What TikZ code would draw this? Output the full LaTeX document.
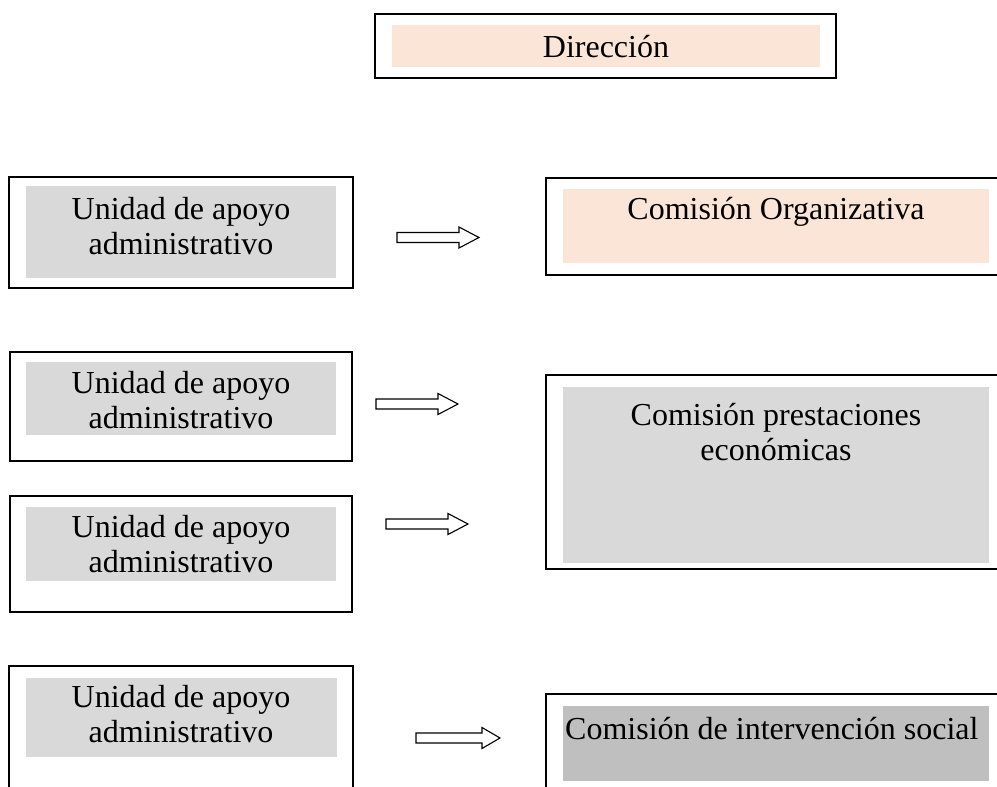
\documentclass[tikz,border=0pt]{standalone}
\usepackage{fontspec}
\setmainfont{Liberation Serif}
\usetikzlibrary{fit}
\definecolor{peach}{HTML}{FBE5D6}
\definecolor{lgray}{HTML}{D9D9D9}
\definecolor{dgray}{HTML}{BFBFBF}
\newcommand\BArrow[5]{% name, x, y, length, head length
  \coordinate (#1) at (#2,#3);
  \draw[barrowline] (#2,#3-5) -- (#2+#4-#5,#3-5) -- (#2+#4-#5,#3-10.5) -- (#2+#4,#3)
    -- (#2+#4-#5,#3+10.5) -- (#2+#4-#5,#3+5) -- (#2,#3+5) -- cycle;}
\begin{document}
\begin{tikzpicture}[x=1pt,y=-1pt,
  frame/.style={draw=black, line width=1.6pt, inner sep=0pt, fill=none},
  shade/.style={inner sep=0pt, draw=none},
  lbl/.style={font=\fontsize{32}{34.5}\selectfont, align=center, inner sep=0pt},
  barrowline/.style={draw=black, line width=1.1pt, fill=white, line join=miter}]
\useasboundingbox (0,0) rectangle (997,787);
\clip (0,0) rectangle (997,787);
\fill[white] (0,0) rectangle (997,787);

% Direccion
\node[frame, fit={(375,14)(836,78)}] (dirO) {};
\node[shade, fill=peach, fit={(392,25)(820,67)}] (dirF) {};
\node[lbl] (dirT) at (606,47) {Dirección};

% Right column
\node[frame, fit={(546,178)(1012,275)}] (orgO) {};
\node[shade, fill=peach, fit={(563,189)(989,263)}] (orgF) {};
\node[lbl] (orgT) at (776,212) {Comisión Organizativa};

\node[frame, fit={(546,375)(1012,569)}] (preO) {};
\node[shade, fill=lgray, fit={(563,387)(989,563)}] (preF) {};
\node[lbl] (preT) at (776,432) {Comisión prestaciones\\económicas};

\node[frame, fit={(546,694)(1012,805)}] (intO) {};
\node[shade, fill=dgray, fit={(563,706)(989,781)}] (intF) {};
\node[lbl, anchor=west] (intT) at (565,729) {Comisión de intervención social};

% Left column
\node[frame, fit={(9,177)(353,288)}] (u1O) {};
\node[shade, fill=lgray, fit={(26,186)(336,278)}] (u1F) {};
\node[lbl] (u1T) at (181,226) {Unidad de apoyo\\administrativo};

\node[frame, fit={(10,352)(352,461)}] (u2O) {};
\node[shade, fill=lgray, fit={(26,362)(336,435)}] (u2F) {};
\node[lbl] (u2T) at (181,400) {Unidad de apoyo\\administrativo};

\node[frame, fit={(10,496)(352,612)}] (u3O) {};
\node[shade, fill=lgray, fit={(26,507)(336,581)}] (u3F) {};
\node[lbl] (u3T) at (181,544) {Unidad de apoyo\\administrativo};

\node[frame, fit={(9,666)(353,805)}] (u4O) {};
\node[shade, fill=lgray, fit={(26,678)(337,757)}] (u4F) {};
\node[lbl] (u4T) at (181,714) {Unidad de apoyo\\administrativo};

% Block arrows
\BArrow{a1}{397}{237.5}{82}{20}
\BArrow{a2}{376}{404}{82}{20}
\BArrow{a3}{386}{524}{82}{20}
\BArrow{a4}{416}{738}{84}{18}
\end{tikzpicture}
\end{document}
